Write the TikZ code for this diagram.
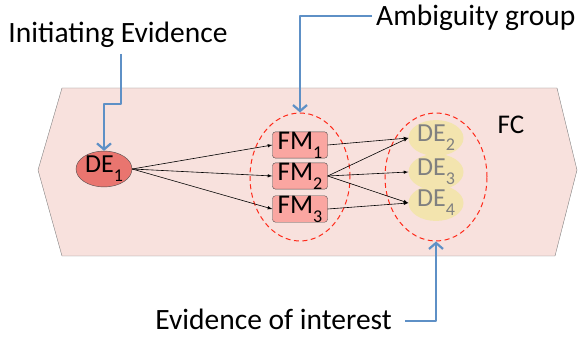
\documentclass[tikz,border=0pt]{standalone}
\usepackage{fontspec}
\setmainfont{Carlito}
\usetikzlibrary{arrows.meta,shapes.geometric}
\definecolor{fcpink}{HTML}{F8E1DD}
\definecolor{derose}{HTML}{E9756F}
\definecolor{fmrose}{HTML}{FAA6A1}
\definecolor{desand}{HTML}{F3E4AE}
\definecolor{dashred}{HTML}{FF2A1A}
\definecolor{callblue}{HTML}{5E90C6}
\newcommand{\lowsub}[1]{\raisebox{-0.7ex}{\fontsize{18bp}{18bp}\selectfont #1}}
\begin{document}
\begin{tikzpicture}[>=latex,line join=bevel,
  fmbox/.style={draw=black!70,fill=fmrose,rounded corners=3bp,minimum width=55bp,minimum height=26bp,inner sep=0pt,font=\fontsize{27bp}{27bp}\selectfont},
  debubble/.style={ellipse,fill=desand,minimum width=55bp,minimum height=24bp,inner sep=0pt,text=black!50,font=\fontsize{26bp}{26bp}\selectfont},
  group/.style={draw=dashred,dashed,dash pattern=on 5bp off 3.5bp,line width=1bp},
  callout/.style={draw=callblue,line width=1.1bp},
  callarrow/.style={-{Straight Barb[length=6bp,width=14bp,line width=2.2bp]}},
  caption/.style={font=\fontsize{29.5bp}{29.5bp}\selectfont},
]
%%
\useasboundingbox (0bp,0bp) rectangle (578bp,337bp);
\draw [fill=fcpink,draw=black!50] (62bp,249bp) -- (557bp,249bp) -- (577bp,167bp) -- (555bp,81bp) -- (62bp,81bp) -- (38bp,167bp) -- cycle;
\node (node_fc) at (511bp,212bp) [font=\fontsize{27bp}{27bp}\selectfont] {FC};
%
\node (node_de1) at (104bp,168bp) [ellipse,draw=black!70,fill=derose,minimum width=56bp,minimum height=26bp,inner sep=0pt,font=\fontsize{26bp}{26bp}\selectfont] {DE\lowsub{1}};
  \node (node_fm1) at (300bp,192bp) [fmbox] {FM\lowsub{1}};
  \node (node_fm2) at (300bp,161bp) [fmbox] {FM\lowsub{2}};
  \node (node_fm3) at (300bp,128bp) [fmbox] {FM\lowsub{3}};
  \node (node_de2) at (436bp,199bp) [debubble] {DE\lowsub{2}};
  \node (node_de3) at (436bp,165bp) [debubble] {DE\lowsub{3}};
  \node (node_de4) at (436bp,134bp) [debubble] {DE\lowsub{4}};
%
\node (node_amb) at (300bp,160bp) [ellipse,group,minimum width=100bp,minimum height=128bp] {};
  \node (node_int) at (436bp,160bp) [ellipse,group,minimum width=102bp,minimum height=128bp] {};
%
\draw [black,->,line width=0.6bp] (node_de1.east) -- (node_fm1.west);
  \draw [black,->,line width=0.6bp] (node_de1.east) -- (node_fm2.west);
  \draw [black,->,line width=0.6bp] (node_de1.east) -- (node_fm3.west);
  \draw [black,->,line width=0.6bp] (node_fm1.east) -- (node_de2.west);
  \draw [black,->,line width=0.6bp] (node_fm2.east) -- (node_de2.west);
  \draw [black,->,line width=0.6bp] (node_fm2.east) -- (node_de3.west);
  \draw [black,->,line width=0.6bp] (node_fm2.east) -- (node_de4.west);
  \draw [black,->,line width=0.6bp] (node_fm3.east) -- (node_de4.west);
%
\node (node_init) at (118bp,302bp) [caption] {Initiating Evidence};
  \node (node_ambtxt) at (376bp,319bp) [caption,anchor=west,inner sep=0pt] {Ambiguity group};
  \node (node_interest) at (392bp,8bp) [caption,anchor=base east,inner sep=0pt] {Evidence of interest};
  \coordinate (init_top) at (121bp,283bp);
  \coordinate (amb_end) at (372bp,321bp);
  \coordinate (int_end) at (405bp,16bp);
  \draw [callout,callarrow] (init_top) -- (121bp,233bp) -- (104bp,233bp) -- (node_de1.north);
  \draw [callout,callarrow] (amb_end) -- (node_amb.north |- amb_end) -- (node_amb.north);
  \draw [callout,callarrow] (int_end) -- (node_int.south |- int_end) -- (node_int.south);
%
\end{tikzpicture}
\end{document}
